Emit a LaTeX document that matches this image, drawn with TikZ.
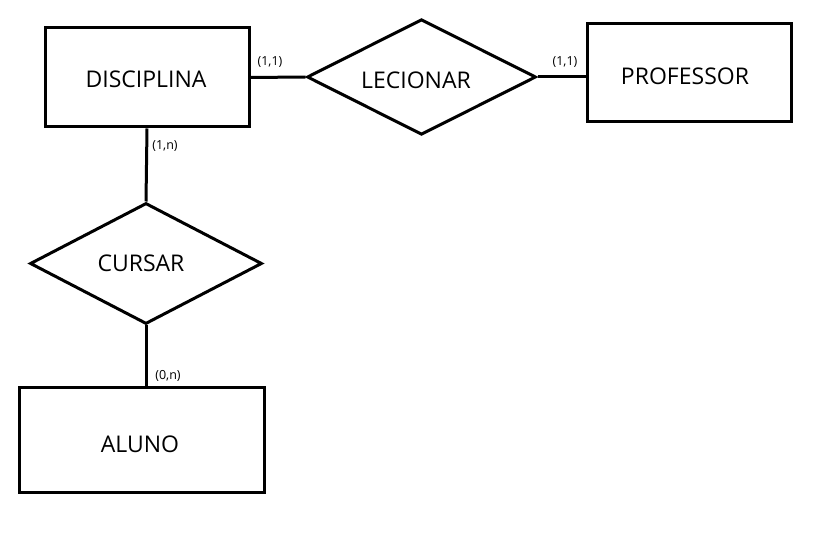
\documentclass[tikz,border=0pt]{standalone}
\usepackage{fontspec}
\setmainfont{Open Sans}
\usetikzlibrary{shapes.geometric}
\newcommand{\shiftxt}[3]{\hspace*{#1}\raisebox{#2}[\height][\depth]{#3}}
\begin{document}
\begin{tikzpicture}[x=1pt,y=-1pt,
  entity/.style={draw,line width=3pt,rectangle,inner sep=0pt,font=\fontsize{23}{27}\selectfont},
  relation/.style={draw,line width=3pt,diamond,inner sep=0pt,font=\fontsize{23}{27}\selectfont},
  conn/.style={line width=3pt},
  card/.style={inner sep=0pt,font=\fontsize{12.5}{15}\selectfont}]
\useasboundingbox (0,0) rectangle (830,534);
\node[entity,minimum width=204pt,minimum height=99pt] (disc) at (147,77.5) {\shiftxt{-2pt}{-1.5pt}{DISCIPLINA}};
\node[entity,minimum width=204pt,minimum height=98pt] (prof) at (689,73) {\shiftxt{-8pt}{-3.5pt}{PROFESSOR}};
\node[entity,minimum width=245pt,minimum height=104pt] (alu) at (141.5,440) {\shiftxt{-3pt}{-4pt}{ALUNO}};
\node[relation,minimum width=229pt,minimum height=113pt] (lec) at (421.5,77) {\shiftxt{-11pt}{-3pt}{LECIONAR}};
\node[relation,minimum width=232pt,minimum height=121pt] (cur) at (146,263.5) {\shiftxt{-10pt}{0pt}{CURSAR}};
\draw[conn] (disc.east) -- (lec.west);
\draw[conn] (lec.east) -- (lec.east -| prof.west);
\draw[conn] (disc.south) -- (cur.north);
\draw[conn] (cur.south) -- (cur.south |- alu.north);
\node[card] (c1) at (270,62) {(1,1)};
\node[card] (c2) at (565,62) {(1,1)};
\node[card] (c3) at (165,146) {(1,n)};
\node[card] (c4) at (168,376) {(0,n)};
\end{tikzpicture}
\end{document}
